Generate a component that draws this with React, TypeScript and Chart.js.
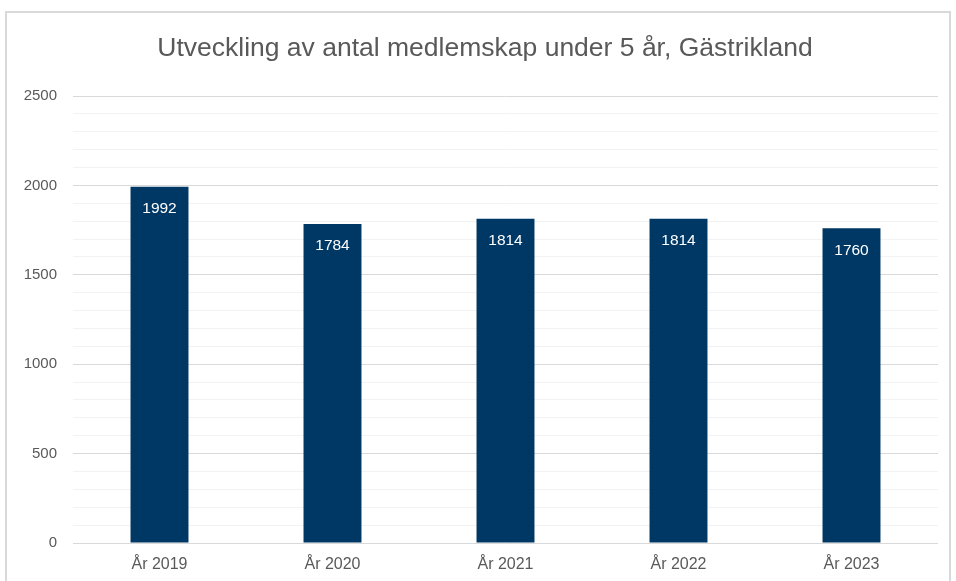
import React, { useEffect, useRef } from "react";
import { Chart, registerables } from "chart.js";

Chart.register(...registerables);

const TITLE = "Utveckling av antal medlemskap under 5 år, Gästrikland";
const CATEGORIES = ["År 2019", "År 2020", "År 2021", "År 2022", "År 2023"];
const MEMBERS = [1992, 1784, 1814, 1814, 1760];
const Y_MAX = 2500;
const Y_MINOR_STEP = 100;
const Y_MAJOR_STEP = 500;

const FONT = "'Liberation Sans', Arial, sans-serif";
const TEXT_GRAY = "#595959";
const BAR_COLOR = "#003865";

const overlayPlugin = {
  id: "overlay",
  afterDraw(chart: any) {
    const ctx = chart.ctx;
    ctx.save();
    // title
    ctx.font = `26.5px ${FONT}`;
    ctx.fillStyle = TEXT_GRAY;
    ctx.textAlign = "center";
    ctx.textBaseline = "alphabetic";
    ctx.fillText(TITLE, 485, 56);
    // data labels
    ctx.font = `15.5px ${FONT}`;
    ctx.fillStyle = "#ffffff";
    ctx.textBaseline = "middle";
    const meta = chart.getDatasetMeta(0);
    meta.data.forEach((bar: any, i: number) => {
      ctx.fillText(String(MEMBERS[i]), bar.x, bar.y + 22);
    });
    ctx.restore();
  },
};

export default function App() {
  const ref = useRef<HTMLCanvasElement | null>(null);
  useEffect(() => {
    if (!ref.current) return;
    const chart = new Chart(ref.current, {
      type: "bar",
      data: {
        labels: CATEGORIES,
        datasets: [
          {
            data: MEMBERS,
            backgroundColor: BAR_COLOR,
            categoryPercentage: 1,
            barPercentage: 0.335,
          },
        ],
      },
      options: {
        responsive: false,
        animation: false,
        devicePixelRatio: 1,
        layout: { padding: { left: 0, right: 18, top: 96, bottom: 0 } },
        plugins: {
          legend: { display: false },
          title: { display: false },
          tooltip: { enabled: false },
        },
        scales: {
          x: {
            grid: { display: false },
            border: { display: false },
            ticks: {
              color: TEXT_GRAY,
              font: { family: FONT, size: 16 },
              padding: 4,
            },
            afterFit: (s: any) => {
              s.height = 38;
            },
          },
          y: {
            min: 0,
            max: Y_MAX,
            border: { display: false },
            grid: {
              drawTicks: false,
              color: (c: any) =>
                c.tick && c.tick.value % Y_MAJOR_STEP === 0 ? "#d9d9d9" : "#f2f2f2",
              lineWidth: 1,
            },
            ticks: {
              stepSize: Y_MINOR_STEP,
              autoSkip: false,
              color: TEXT_GRAY,
              font: { family: FONT, size: 15 },
              padding: 16,
              callback: (v: any) => (Number(v) % Y_MAJOR_STEP === 0 ? String(v) : ""),
            },
            afterFit: (s: any) => {
              s.width = 73;
            },
          },
        },
      },
      plugins: [overlayPlugin],
    });
    return () => chart.destroy();
  }, []);

  return (
    <div
      style={{
        position: "fixed",
        left: 0,
        top: 0,
        width: 956,
        height: 581,
        background: "#ffffff",
        overflow: "hidden",
      }}
    >
      <div
        style={{
          position: "absolute",
          left: 5,
          top: 11,
          width: 942,
          height: 620,
          border: "2px solid #d9d9d9",
        }}
      />
      <canvas
        ref={ref}
        width={956}
        height={581}
        style={{ position: "absolute", left: 0, top: 0, width: 956, height: 581 }}
      />
    </div>
  );
}
